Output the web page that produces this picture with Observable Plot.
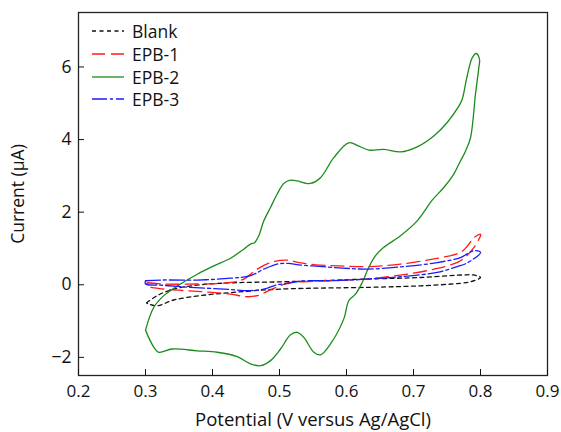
<!DOCTYPE html>
<html><head><meta charset="utf-8">
<script src="https://cdn.jsdelivr.net/npm/d3@7"></script>
<script src="https://cdn.jsdelivr.net/npm/@observablehq/plot@0.6"></script>
<style>
body{margin:0;background:#fff;}
#wrap{position:relative;width:561px;height:432px;font-family:"Open Sans",sans-serif;}
#legend{position:absolute;left:92px;top:20px;}
.row{display:flex;align-items:center;height:22.7px;font-size:17.5px;color:#111;}
.row svg{margin-right:8px;}
</style></head><body><div id="wrap"></div>
<script>
// ---- data ----
const seriesNames = ["Blank", "EPB-1", "EPB-2", "EPB-3"];
const xTicks = [0.2, 0.3, 0.4, 0.5, 0.6, 0.7, 0.8, 0.9];
const yTicks = [-2, 0, 2, 4, 6];

const blankV = [0.3015,0.3175,0.3418,0.382,0.4313,0.5015,0.6358,0.7104,0.7746,0.7896,0.80,0.7851,0.770,0.7104,0.6358,0.5015,0.4313,0.382,0.3422,0.3175,0.3045,0.3015];
const blankI = [-0.50,-0.30,-0.12,0.00,0.055,0.08,0.16,0.20,0.27,0.27,0.20,0.08,0.04,-0.03,-0.07,-0.12,-0.21,-0.30,-0.42,-0.58,-0.53,-0.50];

const epb1V = [0.3025,0.3273,0.3772,0.4269,0.4467,0.4667,0.4866,0.5090,0.5288,0.5537,0.5885,0.6309,0.6806,0.7303,0.7701,0.7801,0.7900,0.80,0.80,0.7900,0.7801,0.7672,0.7354,0.6855,0.6358,0.5910,0.5313,0.5139,0.4891,0.4667,0.4518,0.4269,0.3772,0.3273,0.3025,0.3025];
const epb1I = [0.055,0.02,0.02,0.063,0.157,0.43,0.61,0.68,0.61,0.55,0.52,0.50,0.57,0.71,0.89,1.06,1.29,1.39,1.35,1.02,0.81,0.63,0.45,0.28,0.17,0.12,0.08,0.055,-0.12,-0.30,-0.33,-0.26,-0.18,-0.12,-0.03,0.055];

const epb2V = [0.300,0.3124,0.3273,0.3522,0.3772,0.402,0.4269,0.4467,0.4567,0.4627,0.4691,0.4766,0.4866,0.4966,0.5064,0.5164,0.5264,0.5363,0.5463,0.5612,0.5810,0.6034,0.6184,0.6333,0.6557,0.6806,0.7055,0.7303,0.7503,0.7676,0.7727,0.7801,0.7876,0.7936,0.7985,0.7975,0.7925,0.7851,0.7776,0.7701,0.7601,0.7452,0.7279,0.7055,0.6806,0.6557,0.6433,0.6333,0.6234,0.6134,0.6034,0.5960,0.5761,0.5612,0.5512,0.5363,0.5264,0.5164,0.5015,0.4866,0.4716,0.4567,0.4369,0.4070,0.3772,0.3399,0.3199,0.3124,0.300];
const epb2I = [-1.25,-0.62,-0.30,0.02,0.29,0.52,0.73,0.98,1.12,1.16,1.35,1.76,2.13,2.50,2.79,2.88,2.86,2.81,2.79,2.95,3.50,3.91,3.82,3.71,3.73,3.66,3.80,4.10,4.47,4.92,5.11,5.75,6.25,6.37,6.21,5.98,5.25,4.05,3.68,3.41,3.05,2.68,2.33,1.76,1.35,1.03,0.80,0.48,0.06,-0.26,-0.44,-0.94,-1.63,-1.93,-1.86,-1.45,-1.31,-1.38,-1.77,-2.09,-2.23,-2.18,-1.98,-1.86,-1.82,-1.77,-1.86,-1.72,-1.25];

const epb3V = [0.300,0.3224,0.3772,0.4269,0.4567,0.4766,0.4966,0.5134,0.5288,0.5637,0.5936,0.6309,0.6855,0.7354,0.7701,0.7801,0.7900,0.80,0.7801,0.7652,0.7354,0.6855,0.6358,0.5910,0.5313,0.5139,0.4966,0.4766,0.4567,0.4169,0.3672,0.3224,0.300,0.300];
const epb3I = [0.11,0.13,0.13,0.18,0.25,0.43,0.57,0.59,0.55,0.50,0.46,0.43,0.50,0.61,0.75,0.85,0.94,0.89,0.60,0.50,0.34,0.23,0.16,0.12,0.10,0.04,0.00,-0.12,-0.16,-0.12,-0.07,-0.01,0.02,0.11];

// ---- styles ----
const colors = ["#111111", "#ff1a1a", "#1a8c1a", "#1a1aff"];
const dashes = ["4,3.5", "13,6", null, "15,3,3,3"];

const series = [[blankV, blankI], [epb1V, epb1I], [epb2V, epb2I], [epb3V, epb3I]];
const tables = series.map(([vs, is], k) => vs.map((v, i) => ({series: seriesNames[k], V: v, I: is[i]})));

const lineMarks = tables.map((t, k) => Plot.line(t, {
  x: "V", y: "I", stroke: colors[k], strokeWidth: 1.3,
  strokeDasharray: dashes[k] ?? undefined, curve: "catmull-rom"
}));

const chart = Plot.plot({
  width: 561, height: 432,
  marginLeft: 78, marginRight: 14, marginTop: 12, marginBottom: 57,
  style: {fontFamily: "'Open Sans', sans-serif", fontSize: "17px", color: "#111", background: "white"},
  x: {domain: [0.2, 0.9]},
  y: {domain: [-2.5, 7.5]},
  marks: [
    ...lineMarks,
    Plot.frame({stroke: "#222", strokeWidth: 1.3}),
    Plot.axisX({ticks: xTicks, tickFormat: d3.format(".1f"), tickSize: -6, tickPadding: 15, fontSize: 17, label: null}),
    Plot.axisX({ticks: [], tickSize: 0, label: "Potential (V versus Ag/AgCl)", labelAnchor: "center",
      labelOffset: 50, labelArrow: "none", fontSize: 18.5}),
    Plot.axisY({ticks: yTicks, tickSize: -6, tickPadding: 13,
      label: "Current (μA)", labelAnchor: "center", labelOffset: 67, labelArrow: "none", fontSize: 17.5})
  ]
});

const wrap = document.getElementById("wrap");
wrap.appendChild(chart);

const legend = d3.select(wrap).append("div").attr("id", "legend");
seriesNames.forEach((name, k) => {
  const row = legend.append("div").attr("class", "row");
  const svg = row.append("svg").attr("width", 32).attr("height", 10);
  svg.append("line").attr("x1", 0).attr("x2", 32).attr("y1", 5).attr("y2", 5)
    .attr("stroke", colors[k]).attr("stroke-width", 1.3)
    .attr("stroke-dasharray", dashes[k]);
  row.append("span").text(name);
});
</script>
</body></html>
